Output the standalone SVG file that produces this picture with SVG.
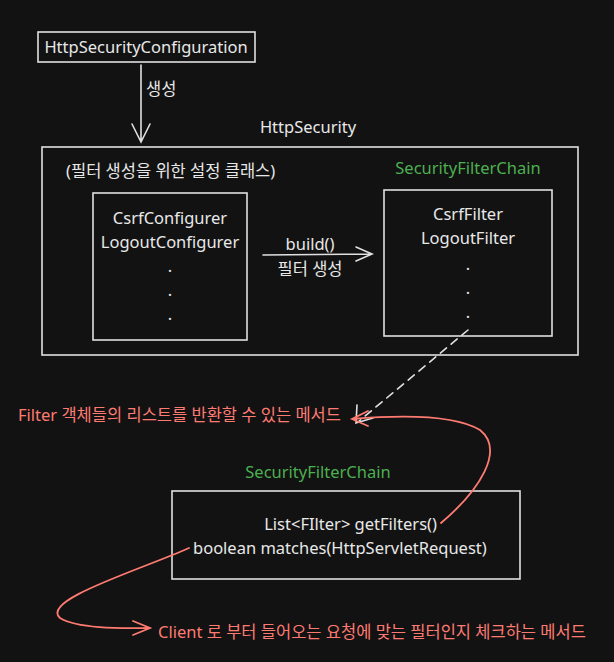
<svg xmlns="http://www.w3.org/2000/svg" width="614" height="662" viewBox="0 0 614 662">
<style>
text{font-family:"Noto Sans","Noto Sans CJK KR",sans-serif;font-size:16.5px;fill:#e8e8e8}
.g{fill:#4caf50}.r{fill:#ff7b72}
.box{fill:none;stroke:#e0e0e0;stroke-width:1.6}
.ln{fill:none;stroke:#e0e0e0;stroke-width:1.6;stroke-linecap:round}
.rl{fill:none;stroke:#ff7b72;stroke-width:1.8;stroke-linecap:round}
</style>
<rect width="614" height="662" fill="#121212"/>
<g id="config"><rect class="box" x="38" y="32" width="217" height="30"/><text x="146" y="53" text-anchor="middle">HttpSecurityConfiguration</text></g>
<g id="httpsecurity"><text x="308" y="133" text-anchor="middle">HttpSecurity</text><rect class="box" x="42" y="147" width="536" height="208"/>
<text x="66" y="177">(필터 생성을 위한 설정 클래스)</text></g>
<g id="configurers"><rect class="box" x="93" y="193" width="154" height="147"/>
<text x="170" y="224" text-anchor="middle">CsrfConfigurer</text><text x="170" y="248" text-anchor="middle">LogoutConfigurer</text>
<text x="170" y="272" text-anchor="middle">.</text><text x="170" y="296" text-anchor="middle">.</text><text x="170" y="320" text-anchor="middle">.</text></g>
<g id="chain1"><text class="g" x="468" y="174" text-anchor="middle">SecurityFilterChain</text><rect class="box" x="384" y="190" width="168" height="146"/>
<text x="468" y="220" text-anchor="middle">CsrfFilter</text><text x="468" y="244" text-anchor="middle">LogoutFilter</text>
<text x="468" y="270" text-anchor="middle">.</text><text x="468" y="294" text-anchor="middle">.</text><text x="468" y="318" text-anchor="middle">.</text></g>
<g id="chain2"><text class="g" x="318" y="478" text-anchor="middle">SecurityFilterChain</text><rect class="box" x="172" y="491" width="348" height="88"/>
<text x="437" y="530" text-anchor="end">List&lt;FIlter&gt; getFilters()</text><text x="193" y="554">boolean matches(HttpServletRequest)</text></g>
<g id="notes"><text class="r" x="18" y="421">Filter 객체들의 리스트를 반환할 수 있는 메서드</text>
<text class="r" x="158" y="638">Client 로 부터 들어오는 요청에 맞는 필터인지 체크하는 메서드</text></g>
<g id="connectors">
<path class="ln" d="M141 65 L141 142 M132 124 L141 142 L150 124"/>
<text x="146" y="95">생성</text>
<path class="ln" d="M263 255 L372 254 M356 247 L372 254 L356 261"/>
<text x="310" y="250" text-anchor="middle">build()</text><text x="310" y="275" text-anchor="middle">필터 생성</text>
<path class="ln" d="M468 330 L358 422" stroke-dasharray="8 6"/><path class="ln" d="M357 405 L356 423 L373 418"/>
<path class="rl" d="M441 523 C480 490 505 450 480 430 C455 415 400 415 352 419 M368 411 L352 419 L368 426"/>
<path class="rl" d="M189 548 C140 570 40 600 60 618 C80 630 130 628 150 628 M133 621 L150 628 L133 635"/>
</g>
</svg>
